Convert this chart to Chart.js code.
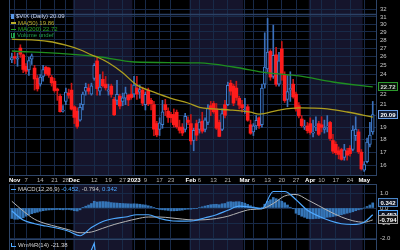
<!DOCTYPE html>
<html>
<head>
<meta charset="utf-8">
<script src="https://cdn.jsdelivr.net/npm/chart.js@4.4.1/dist/chart.umd.min.js"></script>
<style>
html,body{margin:0;padding:0;background:#000;}
body{width:400px;height:250px;position:relative;overflow:hidden;}
canvas{position:absolute;left:0;display:block;}
.lg{position:absolute;left:11px;font-family:"Liberation Sans",Arial,sans-serif;font-size:6px;line-height:6px;white-space:nowrap;}
.ic{display:inline-block;vertical-align:middle;margin-right:2px;}
</style>
</head>
<body>
<canvas id="price" width="400" height="184" style="top:0"></canvas>
<canvas id="macd" width="400" height="56" style="top:184px"></canvas>
<canvas id="wmr" width="400" height="10" style="top:240px"></canvas>

<div class="lg" style="top:13px;color:#c9d4ea"><span class="ic" style="width:3px;height:5px;background:#5a9ae8"></span><span id="lgVix"></span></div>
<div class="lg" style="top:19.5px;color:#bcae2a"><span class="ic" style="width:5px;height:1.5px;background:#bcae2a"></span><span id="lgMa50"></span></div>
<div class="lg" style="top:26px;color:#26a426"><span class="ic" style="width:5px;height:1.5px;background:#26a426"></span><span id="lgMa200"></span></div>
<div class="lg" style="top:32.3px;color:#22a050"><span class="ic" style="width:4px;height:4px;border-bottom:1px solid #22a050;background:linear-gradient(90deg,#22a050 1px,transparent 1px,transparent 2px,#22a050 2px)"></span>Volume undef</div>
<div class="lg" style="top:186px;color:#d4d4d4"><span class="ic" style="width:5px;height:1.5px;background:#4ea8ff"></span>MACD(12,26,9) <span id="lgM" style="color:#4ea8ff"></span> <span id="lgS" style="color:#c4c4c4"></span> <span id="lgH" style="color:#4ea8ff"></span></div>
<div class="lg" style="top:242px;color:#d4d4d4"><span class="ic" style="width:4px;height:3px;border-left:1px solid #4ea8ff;border-bottom:1px solid #4ea8ff"></span>Wm%R(14) <span id="lgW"></span></div>

<script>
// ---------------- data ----------------
// trading days, index 0 = 2022-10-31 ... index 127 = 2023-05-04
const tickIdx    = [1,5,10,15,19,22,29,34,39,43,47,52,56,63,66,71,76,82,85,90,95,100,105,109,114,119,124];
const tickLabels = ['Nov','7','14','21','28','Dec','12','19','27','2023','9','17','23','Feb','6','13','21','Mar','6','13','20','27','Apr','10','17','24','May'];
const boldLabels = ['Nov','Dec','2023','Feb','Mar','Apr','May'];
const monthEdges = [-1,21.5,42.5,62.5,81.5,104.5,123.5,128.5];
const priceTicks = [16,17,18,19,20,21,22,23,24,25,26,27,28,29,30,31,32];
const macdTicks  = [1,0.5,0,-0.5,-1,-1.5,-2];

const opens  = [25.6,26.0,25.7,27.0,26.2,24.9,24.5,25.7,24.7,23.6,23.0,23.8,24.8,24.7,23.7,23.3,22.5,21.8,20.4,21.3,22.1,22.4,
                20.8,20.4,19.6,21.0,22.3,22.6,22.0,23.6,25.5,22.3,23.5,23.0,22.3,22.8,21.5,21.4,21.8,21.3,21.6,21.9,22.0,
                22.0,22.6,22.2,22.4,21.0,22.4,21.4,21.0,19.3,18.8,19.2,21.0,20.4,20.1,20.1,20.3,19.0,19.0,18.8,19.6,
                19.3,17.9,19.3,18.8,19.5,18.8,19.4,20.9,21.1,20.6,19.4,18.8,21.0,21.0,23.1,22.8,22.6,21.6,21.0,
                20.5,20.8,19.2,18.6,19.1,19.8,19.2,23.0,24.6,26.6,23.8,26.2,23.0,26.9,24.0,21.5,22.4,23.0,22.0,20.9,19.7,19.0,19.1,
                19.3,18.5,19.0,19.3,19.2,18.8,19.0,19.4,17.9,17.6,17.1,17.2,16.6,17.1,17.3,17.2,18.3,18.6,17.0,
                15.7,16.3,17.6,18.6];
const highs  = [26.4,26.6,26.4,27.4,26.3,25.2,25.9,26.3,25.0,23.9,24.0,25.0,24.9,24.8,23.9,23.6,22.6,22.0,20.9,22.6,22.5,23.1,
                20.9,20.7,21.1,22.2,23.1,23.0,23.1,25.2,25.9,24.0,24.3,23.8,23.0,23.0,21.7,23.4,22.0,22.1,22.7,22.0,23.0,
                23.8,23.8,22.9,22.7,22.2,22.6,21.6,21.3,19.5,19.8,21.4,21.5,20.7,20.3,20.6,20.5,19.6,19.3,20.2,19.9,
                20.1,18.9,19.6,19.7,20.3,19.8,21.0,21.3,21.3,21.1,19.6,20.6,21.4,23.2,23.4,23.0,23.3,21.8,21.4,
                21.6,21.0,19.6,19.3,20.0,19.9,23.0,28.9,30.8,26.8,29.9,27.1,26.5,27.8,24.3,23.9,24.3,23.5,22.2,21.2,20.0,19.6,19.4,
                19.8,19.6,19.9,19.5,19.9,19.6,20.0,19.5,18.4,17.8,17.4,17.3,17.6,17.3,17.5,19.1,19.9,18.8,17.2,
                16.3,18.1,19.4,21.3];
const lows   = [25.3,25.2,24.9,25.9,24.2,24.1,23.9,25.1,22.4,22.3,22.8,23.3,23.9,23.7,22.8,22.2,21.4,20.3,20.3,21.0,21.6,20.5,
                19.3,18.9,19.5,20.5,21.9,22.0,21.9,23.4,21.9,21.9,22.7,22.4,21.9,21.7,20.0,21.0,20.6,20.9,21.0,20.9,21.5,
                21.7,21.5,21.6,20.9,20.5,20.9,20.5,18.3,18.2,18.3,18.9,20.0,19.4,19.4,19.0,18.9,18.5,18.3,18.6,19.2,
                17.6,17.1,17.9,18.5,18.5,18.6,19.2,20.0,20.2,18.8,18.2,18.7,19.8,20.9,21.9,20.9,21.4,20.6,20.3,
                20.2,19.5,18.4,18.3,18.8,18.9,19.0,22.6,24.3,23.4,23.6,22.8,22.8,23.4,21.2,20.8,21.3,21.6,20.4,19.8,19.0,18.8,18.5,
                18.4,18.2,18.7,18.3,18.6,18.5,18.6,17.9,16.9,16.8,16.5,16.4,16.4,16.4,16.7,17.1,17.9,16.9,15.7,
                15.6,16.2,17.4,18.4];
const closes = [25.88,25.81,25.86,26.27,24.55,24.35,25.54,26.09,23.53,22.52,23.73,24.54,24.11,23.93,23.12,22.36,22.36,20.35,20.50,22.21,21.89,20.58,
                19.84,19.06,20.75,22.01,22.68,22.29,22.83,25.00,22.55,22.70,22.83,22.62,22.42,21.97,20.07,21.97,20.87,21.65,22.14,21.44,21.67,
                22.90,22.01,22.46,21.13,21.97,21.07,21.09,18.83,18.35,19.36,20.34,20.52,19.85,19.81,19.20,19.03,18.73,18.51,19.94,19.40,
                17.87,18.73,18.33,19.43,18.66,19.63,20.63,20.53,20.34,18.91,18.23,20.17,20.02,22.87,22.29,21.14,21.67,20.95,20.70,
                20.58,19.59,18.49,19.10,19.59,19.11,22.61,24.80,26.52,23.73,26.14,22.99,25.51,24.12,21.38,22.26,22.61,21.74,20.60,19.97,19.12,19.08,18.70,
                18.55,18.58,19.08,18.40,18.97,18.97,19.09,18.06,17.07,16.95,16.83,16.46,17.17,16.77,16.89,18.76,18.84,17.03,15.78,
                16.08,17.78,18.34,20.09];

const ma50Idx  = [0,13,19,24,28,30,34,39,44,50,56,62,66,71,77,84,87,94,101,111,118,127];
const ma50     = [28.1,27.8,27.35,26.8,26.2,25.95,25.3,24.2,22.9,22.2,21.6,21.15,20.75,20.6,20.5,20.3,20.13,20.5,20.7,20.6,20.32,19.86];
const ma200Idx = [0,19,31,43,66,78,90,101,113,127];
const ma200    = [26.65,26.3,25.95,25.38,25.27,24.82,24.17,23.85,23.22,22.72];

const macdIdx    = [0,4,8,12,16,20,24,28,32,36,40,44,48,52,56,60,64,68,72,76,80,84,88,92,96,100,104,108,112,116,120,124,127];
const macdLine   = [-0.2,-0.8,-1.05,-1.2,-1.35,-1.55,-1.85,-1.3,-0.9,-0.7,-0.6,-0.45,-0.45,-0.7,-0.85,-0.88,-0.85,-0.65,-0.45,-0.15,0.12,0.05,-0.05,1.1,1.1,0.55,-0.15,-0.55,-0.85,-1.05,-1.1,-0.95,-0.452];
const signalLine = [0.45,-0.2,-0.75,-1.05,-1.25,-1.45,-1.65,-1.6,-1.35,-1.1,-0.9,-0.72,-0.6,-0.6,-0.66,-0.74,-0.8,-0.78,-0.7,-0.55,-0.3,-0.1,-0.05,0.3,0.8,0.9,0.55,0.15,-0.25,-0.6,-0.85,-0.95,-0.794];
const histogram  = [-0.70,-0.75,-0.75,-0.72,-0.65,-0.55,-0.45,-0.38,-0.32,-0.28,-0.22,-0.18,-0.15,-0.13,-0.12,-0.11,-0.10,-0.11,-0.12,-0.10,-0.10,-0.13,
                    -0.18,-0.20,-0.12,0.02,0.12,0.20,0.30,0.45,0.40,0.42,0.43,0.42,0.40,0.36,0.34,0.33,0.31,0.30,0.29,0.28,0.27,
                    0.28,0.27,0.25,0.22,0.20,0.15,0.10,0.02,-0.05,-0.10,-0.12,-0.14,-0.16,-0.19,-0.19,-0.18,-0.16,-0.14,-0.10,-0.08,
                    -0.08,-0.05,-0.02,0.03,0.08,0.13,0.18,0.22,0.24,0.25,0.22,0.28,0.30,0.40,0.42,0.40,0.42,0.42,0.38,
                    0.32,0.24,0.15,0.08,0.04,0.00,0.05,0.25,0.45,0.55,0.70,0.62,0.55,0.45,0.35,0.20,0.05,-0.05,-0.35,-0.45,-0.55,-0.62,-0.70,
                    -0.72,-0.72,-0.70,-0.70,-0.68,-0.65,-0.62,-0.60,-0.57,-0.53,-0.49,-0.45,-0.40,-0.35,-0.30,-0.25,-0.18,-0.12,-0.08,
                    0.00,0.10,0.20,0.342];
const wmrIdx = [24,25,26,27,28,29,30,31,32,127];
const wmr    = [-45,-30,-20,-28,-16,-4,-48,-45,-42,-21.38];

// ---------------- styling ----------------
const FONT = '"Liberation Sans", Arial, sans-serif';
const GRID = '#182a48';
const FRAME = '#2e4568';
const NAVY = '#15152c';

document.getElementById('lgVix').textContent = '$VIX (Daily) ' + closes[closes.length-1].toFixed(2);
document.getElementById('lgMa50').textContent = 'MA(50) ' + ma50[ma50.length-1].toFixed(2);
document.getElementById('lgMa200').textContent = 'MA(200) ' + ma200[ma200.length-1].toFixed(2);
document.getElementById('lgM').textContent = macdLine[macdLine.length-1].toFixed(3) + ',';
document.getElementById('lgS').textContent = signalLine[signalLine.length-1].toFixed(3) + ',';
document.getElementById('lgH').textContent = histogram[histogram.length-1].toFixed(3);
document.getElementById('lgW').textContent = wmr[wmr.length-1].toFixed(2);

const bandsPlugin = {
  id: 'bands',
  beforeDraw(chart) {
    const {ctx, chartArea: a, scales: {x}} = chart;
    ctx.save();
    for (let k = 0; k < monthEdges.length - 1; k++) {
      const x0 = Math.max(a.left, x.getPixelForValue(monthEdges[k]));
      const x1 = Math.min(a.right, x.getPixelForValue(monthEdges[k + 1]));
      ctx.fillStyle = (k % 2) ? NAVY : '#000000';
      ctx.fillRect(x0, a.top, x1 - x0, a.bottom - a.top);
    }
    ctx.restore();
  }
};

function framePlugin(sides, extraLineY) {
  return {
    id: 'frame',
    afterDatasetsDraw(chart) {
      const {ctx, chartArea: a} = chart;
      ctx.save();
      ctx.strokeStyle = FRAME;
      ctx.lineWidth = 1;
      const L = Math.round(a.left) + 0.5, R = Math.round(a.right) - 0.5;
      const T = Math.round(a.top) + 0.5, B = Math.round(a.bottom) - 0.5;
      ctx.beginPath();
      if (sides.includes('l')) { ctx.moveTo(L, a.top); ctx.lineTo(L, a.bottom); }
      if (sides.includes('r')) { ctx.moveTo(R, a.top); ctx.lineTo(R, a.bottom); }
      if (sides.includes('t')) { ctx.moveTo(a.left, T); ctx.lineTo(a.right, T); }
      if (sides.includes('b')) { ctx.moveTo(a.left, B); ctx.lineTo(a.right, B); }
      ctx.stroke();
      if (extraLineY !== undefined) {
        ctx.strokeStyle = '#2b4266';
        ctx.lineWidth = 1.5;
        ctx.beginPath(); ctx.moveTo(a.left, extraLineY); ctx.lineTo(a.right, extraLineY); ctx.stroke();
      }
      ctx.restore();
    }
  };
}

function drawBox(ctx, x, y, text, border, fill, fg) {
  const w = 20, h = 9;
  const top = Math.round(y - h / 2);
  ctx.fillStyle = fill;
  ctx.fillRect(x, top, w, h);
  ctx.strokeStyle = border;
  ctx.lineWidth = 1;
  ctx.strokeRect(x + 0.5, top + 0.5, w - 1, h - 1);
  ctx.fillStyle = fg;
  ctx.font = 'bold 6px ' + FONT;
  ctx.textAlign = 'center';
  ctx.textBaseline = 'middle';
  ctx.fillText(text, x + w / 2, top + h / 2 + 0.5);
}

function xAxis(showLabels) {
  return {
    type: 'linear', position: 'bottom', min: -1, max: 128.5, offset: false,
    grid: {color: GRID, lineWidth: 1, drawTicks: false, offset: false},
    border: {display: false},
    afterBuildTicks(s) { s.ticks = tickIdx.map(v => ({value: v})); },
    afterFit(s) { s.height = showLabels ? 8 : 0; s.paddingLeft = 0; s.paddingRight = 0; },
    ticks: {
      display: showLabels, autoSkip: false, maxRotation: 0, minRotation: 0, padding: 1,
      callback: (v, i) => tickLabels[i],
      color: c => boldLabels.includes(tickLabels[c.index]) ? '#ffffff' : '#b4b4b4',
      font: c => ({family: FONT, size: 6, weight: boldLabels.includes(tickLabels[c.index]) ? 'bold' : 'normal'})
    }
  };
}

const base = {
  responsive: false, animation: false, events: [],
  layout: {padding: {left: 9, right: 0, top: 0, bottom: 0}},
  plugins: {legend: {display: false}, tooltip: {enabled: false}}
};

const isUp = i => closes[i] >= opens[i];

// ---------------- price chart ----------------
new Chart(document.getElementById('price'), {
  type: 'bar',
  data: {
    datasets: [
      {type: 'line', data: ma50Idx.map((x, k) => ({x, y: ma50[k]})), borderColor: '#ad9e1e', borderWidth: 1.3,
       pointRadius: 0, cubicInterpolationMode: 'monotone', fill: false},
      {type: 'line', data: ma200Idx.map((x, k) => ({x, y: ma200[k]})), borderColor: '#1f8f1f', borderWidth: 1.3,
       pointRadius: 0, cubicInterpolationMode: 'monotone', fill: false},
      {type: 'bar', data: opens.map((o, i) => ({x: i, y: [o, closes[i]]})), grouped: false, barThickness: 3,
       minBarLength: 1, borderSkipped: false,
       backgroundColor: c => isUp(c.dataIndex) ? '#0b1226' : '#ff1c1c',
       borderColor: c => isUp(c.dataIndex) ? '#3f7fd0' : '#ff1c1c',
       borderWidth: c => isUp(c.dataIndex) ? 1 : 0},
      {type: 'bar', data: lows.map((l, i) => ({x: i, y: [l, highs[i]]})), grouped: false, barThickness: 1,
       borderWidth: 0, backgroundColor: c => isUp(c.dataIndex) ? '#3b70bb' : '#c41616'}
    ]
  },
  options: Object.assign({}, base, {
    scales: {
      x: xAxis(true),
      y: {
        type: 'logarithmic', position: 'right', min: 15.29, max: 33.43,
        afterBuildTicks(s) { s.ticks = priceTicks.map(v => ({value: v})); },
        afterFit(s) { s.width = 23; s.paddingTop = 0; s.paddingBottom = 0; },
        grid: {color: GRID, lineWidth: 1, drawTicks: false},
        border: {display: false},
        ticks: {color: '#c8c8c8', padding: 3, font: {family: FONT, size: 6}, callback: v => String(v)}
      }
    }
  }),
  plugins: [bandsPlugin, framePlugin('lrb', 14.5), {
    id: 'boxes',
    afterDraw(chart) {
      const {ctx, scales: {y}} = chart;
      const m2 = ma200[ma200.length - 1], c = closes[closes.length - 1];
      drawBox(ctx, 378, y.getPixelForValue(m2), m2.toFixed(2), '#2c9a2c', '#0a150a', '#d8d8d8');
      drawBox(ctx, 378, y.getPixelForValue(c), c.toFixed(2), '#6a9ee6', '#101a33', '#ffffff');
    }
  }]
});

// ---------------- MACD chart ----------------
new Chart(document.getElementById('macd'), {
  type: 'bar',
  data: {
    datasets: [
      {type: 'line', data: macdIdx.map((x, k) => ({x, y: macdLine[k]})), borderColor: '#4ea8ff', borderWidth: 1.2,
       pointRadius: 0, cubicInterpolationMode: 'monotone', fill: false},
      {type: 'line', data: macdIdx.map((x, k) => ({x, y: signalLine[k]})), borderColor: '#b4b4b4', borderWidth: 1,
       pointRadius: 0, cubicInterpolationMode: 'monotone', fill: false},
      {type: 'bar', data: histogram.map((h, i) => ({x: i, y: h})), grouped: false, barThickness: 2,
       borderWidth: 0, backgroundColor: '#3576b8'}
    ]
  },
  options: Object.assign({}, base, {
    scales: {
      x: xAxis(false),
      y: {
        type: 'linear', position: 'right', min: -2.133, max: 1.6,
        afterBuildTicks(s) { s.ticks = macdTicks.map(v => ({value: v})); },
        afterFit(s) { s.width = 23; s.paddingTop = 0; s.paddingBottom = 0; },
        grid: {color: GRID, lineWidth: 1, drawTicks: false},
        border: {display: false},
        ticks: {color: '#c8c8c8', padding: 3, font: {family: FONT, size: 6}, callback: v => v.toFixed(1)}
      }
    }
  }),
  plugins: [bandsPlugin, framePlugin('lrtb'), {
    id: 'boxes',
    afterDraw(chart) {
      const {ctx, scales: {y}} = chart;
      const h = histogram[histogram.length - 1], m = macdLine[macdLine.length - 1], s = signalLine[signalLine.length - 1];
      drawBox(ctx, 378, y.getPixelForValue(h), h.toFixed(3), '#4a86c8', '#0d1424', '#ffffff');
      drawBox(ctx, 378, y.getPixelForValue(m), m.toFixed(3), '#4ea8ff', '#0d1424', '#ffffff');
      drawBox(ctx, 378, y.getPixelForValue(s), s.toFixed(3), '#a0a0a0', '#141414', '#ffffff');
    }
  }]
});

// ---------------- Williams %R (top sliver) ----------------
new Chart(document.getElementById('wmr'), {
  type: 'line',
  data: {
    datasets: [
      {data: wmrIdx.map((x, k) => ({x, y: wmr[k]})), borderColor: '#4ea8ff', borderWidth: 1.2, pointRadius: 0, fill: false, spanGaps: false}
    ]
  },
  options: Object.assign({}, base, {
    scales: {
      x: xAxis(false),
      y: {
        type: 'linear', position: 'right', min: -16, max: 2,
        afterFit(s) { s.width = 23; s.paddingTop = 0; s.paddingBottom = 0; },
        grid: {display: false},
        border: {display: false},
        ticks: {display: false}
      }
    }
  }),
  plugins: [bandsPlugin, framePlugin('lr')]
});
</script>
</body>
</html>
